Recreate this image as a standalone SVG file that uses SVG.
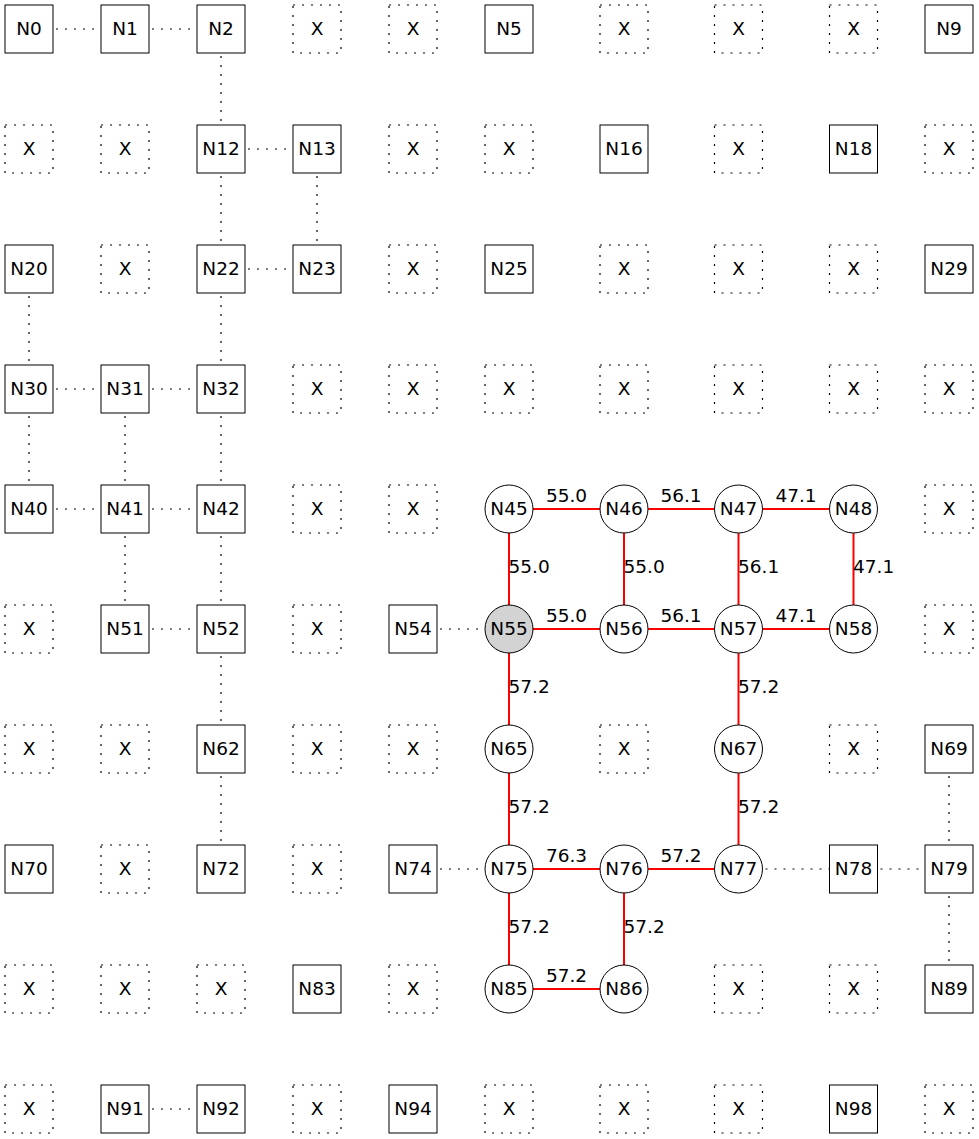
<svg xmlns="http://www.w3.org/2000/svg" width="979" height="1139" viewBox="0 0 979 1139">
<style>
text{font-family:"DejaVu Sans",sans-serif;font-size:18.5px;fill:#000}
.n text,.x text{text-anchor:middle}
.n rect{fill:#fff;stroke:#000;stroke-width:1}
.n circle{fill:#fff;stroke:#000;stroke-width:1}
.g circle{fill:#d3d3d3}
.x rect{fill:none;stroke:#000;stroke-width:1.2;stroke-dasharray:2,7}
.d{stroke:#000;stroke-width:1.2;stroke-dasharray:2,7;fill:none}
.r{stroke:#f00;stroke-width:2;fill:none}
.lh{text-anchor:middle}
</style>
<rect width="979" height="1139" fill="#fff"/>
<g id="connectors">
<line class="d" x1="56" y1="29" x2="101" y2="29"/>
<line class="d" x1="152" y1="29" x2="197" y2="29"/>
<line class="d" x1="221" y1="56" x2="221" y2="125"/>
<line class="d" x1="248" y1="149" x2="293" y2="149"/>
<line class="d" x1="221" y1="176" x2="221" y2="245"/>
<line class="d" x1="317" y1="176" x2="317" y2="245"/>
<line class="d" x1="248" y1="269" x2="293" y2="269"/>
<line class="d" x1="221" y1="296" x2="221" y2="365"/>
<line class="d" x1="29" y1="296" x2="29" y2="365"/>
<line class="d" x1="56" y1="389" x2="101" y2="389"/>
<line class="d" x1="152" y1="389" x2="197" y2="389"/>
<line class="d" x1="29" y1="416" x2="29" y2="485"/>
<line class="d" x1="125" y1="416" x2="125" y2="485"/>
<line class="d" x1="221" y1="416" x2="221" y2="485"/>
<line class="d" x1="56" y1="509" x2="101" y2="509"/>
<line class="d" x1="152" y1="509" x2="197" y2="509"/>
<line class="d" x1="125" y1="536" x2="125" y2="605"/>
<line class="d" x1="221" y1="536" x2="221" y2="605"/>
<line class="d" x1="152" y1="629" x2="197" y2="629"/>
<line class="d" x1="221" y1="656" x2="221" y2="725"/>
<line class="d" x1="221" y1="776" x2="221" y2="845"/>
<line class="d" x1="440" y1="629" x2="485" y2="629"/>
<line class="d" x1="440" y1="869" x2="485" y2="869"/>
<line class="d" x1="765.5" y1="869" x2="829.5" y2="869"/>
<line class="d" x1="880.5" y1="869" x2="925" y2="869"/>
<line class="d" x1="949" y1="776" x2="949" y2="845"/>
<line class="d" x1="949" y1="896" x2="949" y2="965"/>
<line class="d" x1="152" y1="1109" x2="197" y2="1109"/>
<line class="r" x1="509" y1="509" x2="624" y2="509"/>
<line class="r" x1="624" y1="509" x2="738.5" y2="509"/>
<line class="r" x1="738.5" y1="509" x2="853.5" y2="509"/>
<line class="r" x1="509" y1="509" x2="509" y2="629"/>
<line class="r" x1="624" y1="509" x2="624" y2="629"/>
<line class="r" x1="738.5" y1="509" x2="738.5" y2="629"/>
<line class="r" x1="853.5" y1="509" x2="853.5" y2="629"/>
<line class="r" x1="509" y1="629" x2="624" y2="629"/>
<line class="r" x1="624" y1="629" x2="738.5" y2="629"/>
<line class="r" x1="738.5" y1="629" x2="853.5" y2="629"/>
<line class="r" x1="509" y1="629" x2="509" y2="749"/>
<line class="r" x1="738.5" y1="629" x2="738.5" y2="749"/>
<line class="r" x1="509" y1="749" x2="509" y2="869"/>
<line class="r" x1="738.5" y1="749" x2="738.5" y2="869"/>
<line class="r" x1="509" y1="869" x2="624" y2="869"/>
<line class="r" x1="624" y1="869" x2="738.5" y2="869"/>
<line class="r" x1="509" y1="869" x2="509" y2="989"/>
<line class="r" x1="624" y1="869" x2="624" y2="989"/>
<line class="r" x1="509" y1="989" x2="624" y2="989"/>
<text class="lh" x="566.5" y="502">55.0</text>
<text class="lh" x="681" y="502">56.1</text>
<text class="lh" x="796" y="502">47.1</text>
<text x="508.5" y="573">55.0</text>
<text x="623.5" y="573">55.0</text>
<text x="738" y="573">56.1</text>
<text x="853" y="573">47.1</text>
<text class="lh" x="566.5" y="622">55.0</text>
<text class="lh" x="681" y="622">56.1</text>
<text class="lh" x="796" y="622">47.1</text>
<text x="508.5" y="693">57.2</text>
<text x="738" y="693">57.2</text>
<text x="508.5" y="813">57.2</text>
<text x="738" y="813">57.2</text>
<text class="lh" x="566.5" y="862">76.3</text>
<text class="lh" x="681" y="862">57.2</text>
<text x="508.5" y="933">57.2</text>
<text x="623.5" y="933">57.2</text>
<text class="lh" x="566.5" y="982">57.2</text>
</g>
<g id="nodes">
<g id="N0" class="n"><rect x="5" y="5" width="48" height="48"/><text x="29" y="35">N0</text></g>
<g id="N1" class="n"><rect x="101" y="5" width="48" height="48"/><text x="125" y="35">N1</text></g>
<g id="N2" class="n"><rect x="197" y="5" width="48" height="48"/><text x="221" y="35">N2</text></g>
<g id="X3" class="x"><rect x="293" y="5" width="48" height="48"/><text x="317" y="35">X</text></g>
<g id="X4" class="x"><rect x="389" y="5" width="48" height="48"/><text x="413" y="35">X</text></g>
<g id="N5" class="n"><rect x="485" y="5" width="48" height="48"/><text x="509" y="35">N5</text></g>
<g id="X6" class="x"><rect x="600" y="5" width="48" height="48"/><text x="624" y="35">X</text></g>
<g id="X7" class="x"><rect x="714.5" y="5" width="48" height="48"/><text x="738.5" y="35">X</text></g>
<g id="X8" class="x"><rect x="829.5" y="5" width="48" height="48"/><text x="853.5" y="35">X</text></g>
<g id="N9" class="n"><rect x="925" y="5" width="48" height="48"/><text x="949" y="35">N9</text></g>

<g id="X10" class="x"><rect x="5" y="125" width="48" height="48"/><text x="29" y="155">X</text></g>
<g id="X11" class="x"><rect x="101" y="125" width="48" height="48"/><text x="125" y="155">X</text></g>
<g id="N12" class="n"><rect x="197" y="125" width="48" height="48"/><text x="221" y="155">N12</text></g>
<g id="N13" class="n"><rect x="293" y="125" width="48" height="48"/><text x="317" y="155">N13</text></g>
<g id="X14" class="x"><rect x="389" y="125" width="48" height="48"/><text x="413" y="155">X</text></g>
<g id="X15" class="x"><rect x="485" y="125" width="48" height="48"/><text x="509" y="155">X</text></g>
<g id="N16" class="n"><rect x="600" y="125" width="48" height="48"/><text x="624" y="155">N16</text></g>
<g id="X17" class="x"><rect x="714.5" y="125" width="48" height="48"/><text x="738.5" y="155">X</text></g>
<g id="N18" class="n"><rect x="829.5" y="125" width="48" height="48"/><text x="853.5" y="155">N18</text></g>
<g id="X19" class="x"><rect x="925" y="125" width="48" height="48"/><text x="949" y="155">X</text></g>

<g id="N20" class="n"><rect x="5" y="245" width="48" height="48"/><text x="29" y="275">N20</text></g>
<g id="X21" class="x"><rect x="101" y="245" width="48" height="48"/><text x="125" y="275">X</text></g>
<g id="N22" class="n"><rect x="197" y="245" width="48" height="48"/><text x="221" y="275">N22</text></g>
<g id="N23" class="n"><rect x="293" y="245" width="48" height="48"/><text x="317" y="275">N23</text></g>
<g id="X24" class="x"><rect x="389" y="245" width="48" height="48"/><text x="413" y="275">X</text></g>
<g id="N25" class="n"><rect x="485" y="245" width="48" height="48"/><text x="509" y="275">N25</text></g>
<g id="X26" class="x"><rect x="600" y="245" width="48" height="48"/><text x="624" y="275">X</text></g>
<g id="X27" class="x"><rect x="714.5" y="245" width="48" height="48"/><text x="738.5" y="275">X</text></g>
<g id="X28" class="x"><rect x="829.5" y="245" width="48" height="48"/><text x="853.5" y="275">X</text></g>
<g id="N29" class="n"><rect x="925" y="245" width="48" height="48"/><text x="949" y="275">N29</text></g>

<g id="N30" class="n"><rect x="5" y="365" width="48" height="48"/><text x="29" y="395">N30</text></g>
<g id="N31" class="n"><rect x="101" y="365" width="48" height="48"/><text x="125" y="395">N31</text></g>
<g id="N32" class="n"><rect x="197" y="365" width="48" height="48"/><text x="221" y="395">N32</text></g>
<g id="X33" class="x"><rect x="293" y="365" width="48" height="48"/><text x="317" y="395">X</text></g>
<g id="X34" class="x"><rect x="389" y="365" width="48" height="48"/><text x="413" y="395">X</text></g>
<g id="X35" class="x"><rect x="485" y="365" width="48" height="48"/><text x="509" y="395">X</text></g>
<g id="X36" class="x"><rect x="600" y="365" width="48" height="48"/><text x="624" y="395">X</text></g>
<g id="X37" class="x"><rect x="714.5" y="365" width="48" height="48"/><text x="738.5" y="395">X</text></g>
<g id="X38" class="x"><rect x="829.5" y="365" width="48" height="48"/><text x="853.5" y="395">X</text></g>
<g id="X39" class="x"><rect x="925" y="365" width="48" height="48"/><text x="949" y="395">X</text></g>

<g id="N40" class="n"><rect x="5" y="485" width="48" height="48"/><text x="29" y="515">N40</text></g>
<g id="N41" class="n"><rect x="101" y="485" width="48" height="48"/><text x="125" y="515">N41</text></g>
<g id="N42" class="n"><rect x="197" y="485" width="48" height="48"/><text x="221" y="515">N42</text></g>
<g id="X43" class="x"><rect x="293" y="485" width="48" height="48"/><text x="317" y="515">X</text></g>
<g id="X44" class="x"><rect x="389" y="485" width="48" height="48"/><text x="413" y="515">X</text></g>
<g id="N45" class="n"><circle cx="509" cy="509" r="24"/><text x="509" y="515">N45</text></g>
<g id="N46" class="n"><circle cx="624" cy="509" r="24"/><text x="624" y="515">N46</text></g>
<g id="N47" class="n"><circle cx="738.5" cy="509" r="24"/><text x="738.5" y="515">N47</text></g>
<g id="N48" class="n"><circle cx="853.5" cy="509" r="24"/><text x="853.5" y="515">N48</text></g>
<g id="X49" class="x"><rect x="925" y="485" width="48" height="48"/><text x="949" y="515">X</text></g>

<g id="X50" class="x"><rect x="5" y="605" width="48" height="48"/><text x="29" y="635">X</text></g>
<g id="N51" class="n"><rect x="101" y="605" width="48" height="48"/><text x="125" y="635">N51</text></g>
<g id="N52" class="n"><rect x="197" y="605" width="48" height="48"/><text x="221" y="635">N52</text></g>
<g id="X53" class="x"><rect x="293" y="605" width="48" height="48"/><text x="317" y="635">X</text></g>
<g id="N54" class="n"><rect x="389" y="605" width="48" height="48"/><text x="413" y="635">N54</text></g>
<g id="N55" class="n g"><circle cx="509" cy="629" r="24"/><text x="509" y="635">N55</text></g>
<g id="N56" class="n"><circle cx="624" cy="629" r="24"/><text x="624" y="635">N56</text></g>
<g id="N57" class="n"><circle cx="738.5" cy="629" r="24"/><text x="738.5" y="635">N57</text></g>
<g id="N58" class="n"><circle cx="853.5" cy="629" r="24"/><text x="853.5" y="635">N58</text></g>
<g id="X59" class="x"><rect x="925" y="605" width="48" height="48"/><text x="949" y="635">X</text></g>

<g id="X60" class="x"><rect x="5" y="725" width="48" height="48"/><text x="29" y="755">X</text></g>
<g id="X61" class="x"><rect x="101" y="725" width="48" height="48"/><text x="125" y="755">X</text></g>
<g id="N62" class="n"><rect x="197" y="725" width="48" height="48"/><text x="221" y="755">N62</text></g>
<g id="X63" class="x"><rect x="293" y="725" width="48" height="48"/><text x="317" y="755">X</text></g>
<g id="X64" class="x"><rect x="389" y="725" width="48" height="48"/><text x="413" y="755">X</text></g>
<g id="N65" class="n"><circle cx="509" cy="749" r="24"/><text x="509" y="755">N65</text></g>
<g id="X66" class="x"><rect x="600" y="725" width="48" height="48"/><text x="624" y="755">X</text></g>
<g id="N67" class="n"><circle cx="738.5" cy="749" r="24"/><text x="738.5" y="755">N67</text></g>
<g id="X68" class="x"><rect x="829.5" y="725" width="48" height="48"/><text x="853.5" y="755">X</text></g>
<g id="N69" class="n"><rect x="925" y="725" width="48" height="48"/><text x="949" y="755">N69</text></g>

<g id="N70" class="n"><rect x="5" y="845" width="48" height="48"/><text x="29" y="875">N70</text></g>
<g id="X71" class="x"><rect x="101" y="845" width="48" height="48"/><text x="125" y="875">X</text></g>
<g id="N72" class="n"><rect x="197" y="845" width="48" height="48"/><text x="221" y="875">N72</text></g>
<g id="X73" class="x"><rect x="293" y="845" width="48" height="48"/><text x="317" y="875">X</text></g>
<g id="N74" class="n"><rect x="389" y="845" width="48" height="48"/><text x="413" y="875">N74</text></g>
<g id="N75" class="n"><circle cx="509" cy="869" r="24"/><text x="509" y="875">N75</text></g>
<g id="N76" class="n"><circle cx="624" cy="869" r="24"/><text x="624" y="875">N76</text></g>
<g id="N77" class="n"><circle cx="738.5" cy="869" r="24"/><text x="738.5" y="875">N77</text></g>
<g id="N78" class="n"><rect x="829.5" y="845" width="48" height="48"/><text x="853.5" y="875">N78</text></g>
<g id="N79" class="n"><rect x="925" y="845" width="48" height="48"/><text x="949" y="875">N79</text></g>

<g id="X80" class="x"><rect x="5" y="965" width="48" height="48"/><text x="29" y="995">X</text></g>
<g id="X81" class="x"><rect x="101" y="965" width="48" height="48"/><text x="125" y="995">X</text></g>
<g id="X82" class="x"><rect x="197" y="965" width="48" height="48"/><text x="221" y="995">X</text></g>
<g id="N83" class="n"><rect x="293" y="965" width="48" height="48"/><text x="317" y="995">N83</text></g>
<g id="X84" class="x"><rect x="389" y="965" width="48" height="48"/><text x="413" y="995">X</text></g>
<g id="N85" class="n"><circle cx="509" cy="989" r="24"/><text x="509" y="995">N85</text></g>
<g id="N86" class="n"><circle cx="624" cy="989" r="24"/><text x="624" y="995">N86</text></g>
<g id="X87" class="x"><rect x="714.5" y="965" width="48" height="48"/><text x="738.5" y="995">X</text></g>
<g id="X88" class="x"><rect x="829.5" y="965" width="48" height="48"/><text x="853.5" y="995">X</text></g>
<g id="N89" class="n"><rect x="925" y="965" width="48" height="48"/><text x="949" y="995">N89</text></g>

<g id="X90" class="x"><rect x="5" y="1085" width="48" height="48"/><text x="29" y="1115">X</text></g>
<g id="N91" class="n"><rect x="101" y="1085" width="48" height="48"/><text x="125" y="1115">N91</text></g>
<g id="N92" class="n"><rect x="197" y="1085" width="48" height="48"/><text x="221" y="1115">N92</text></g>
<g id="X93" class="x"><rect x="293" y="1085" width="48" height="48"/><text x="317" y="1115">X</text></g>
<g id="N94" class="n"><rect x="389" y="1085" width="48" height="48"/><text x="413" y="1115">N94</text></g>
<g id="X95" class="x"><rect x="485" y="1085" width="48" height="48"/><text x="509" y="1115">X</text></g>
<g id="X96" class="x"><rect x="600" y="1085" width="48" height="48"/><text x="624" y="1115">X</text></g>
<g id="X97" class="x"><rect x="714.5" y="1085" width="48" height="48"/><text x="738.5" y="1115">X</text></g>
<g id="N98" class="n"><rect x="829.5" y="1085" width="48" height="48"/><text x="853.5" y="1115">N98</text></g>
<g id="X99" class="x"><rect x="925" y="1085" width="48" height="48"/><text x="949" y="1115">X</text></g>
</g>
</svg>
